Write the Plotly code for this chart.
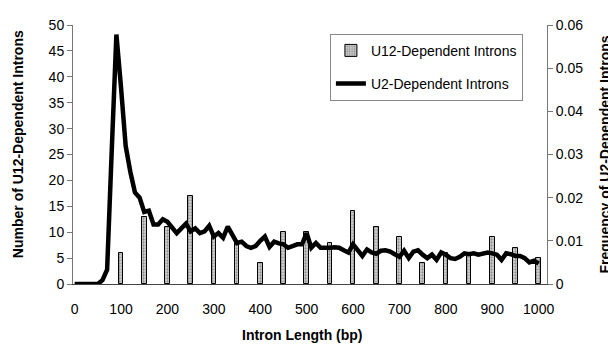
import plotly.graph_objects as go

# U12-dependent intron counts (bars), by intron length bin
u12_lengths = [100, 150, 200, 250, 300, 350, 400, 450, 500, 550,
               600, 650, 700, 750, 800, 850, 900, 950, 1000]
u12_counts = [6, 13, 11, 17, 9, 8, 4, 10, 10, 8,
              14, 11, 9, 4, 6, 6, 9, 7, 5]

# U2-dependent intron frequency (line), 10-bp bins
u2_lengths = list(range(0, 1001, 10))
u2_freq = [
    0, 0, 0, 0, 0, 0, 0.0009, 0.0033, 0.031, 0.0578,
    0.0455, 0.032, 0.026, 0.0212, 0.020, 0.0167, 0.017, 0.0138, 0.0138, 0.015,
    0.0144, 0.013, 0.0118, 0.0129, 0.014, 0.0122, 0.0129, 0.0118, 0.0122, 0.0135,
    0.011, 0.0118, 0.0107, 0.0133, 0.0114, 0.0095, 0.0098, 0.0088, 0.0084, 0.0088,
    0.010, 0.011, 0.0086, 0.0098, 0.0094, 0.0092, 0.0084, 0.0088, 0.0092, 0.0092,
    0.0118, 0.0084, 0.0095, 0.0084, 0.0083, 0.0084, 0.0085, 0.0084, 0.0078, 0.0073,
    0.0092, 0.008, 0.0065, 0.008, 0.0073, 0.007, 0.0077, 0.0078, 0.0075, 0.0069,
    0.0063, 0.0077, 0.006, 0.0075, 0.0078, 0.0068, 0.006, 0.0068, 0.0056, 0.0073,
    0.0068, 0.006, 0.0058, 0.0063, 0.0071, 0.0069, 0.0071, 0.0068, 0.0071, 0.0073,
    0.0071, 0.0068, 0.0056, 0.0071, 0.0069, 0.0065, 0.0065, 0.006, 0.005, 0.0054,
    0.0047,
]

x_ticks = [0, 100, 200, 300, 400, 500, 600, 700, 800, 900, 1000]
y1_ticks = [0, 5, 10, 15, 20, 25, 30, 35, 40, 45, 50]
y2_ticks = [0, 0.01, 0.02, 0.03, 0.04, 0.05, 0.06]
y2_labels = ["0", "0.01", "0.02", "0.03", "0.04", "0.05", "0.06"]

FONT = "Liberation Sans, Arial, sans-serif"

fig = go.Figure()
fig.add_trace(go.Bar(
    x=u12_lengths, y=u12_counts, name="U12-Dependent Introns",
    width=10, legendgroup="a",
    marker=dict(color="#d4d4d4", line=dict(color="#000000", width=1),
                pattern=dict(shape=".", fgcolor="#4a4a4a", bgcolor="#d4d4d4",
                             size=3, solidity=0.45)),
    yaxis="y",
))
fig.add_trace(go.Scatter(
    x=u2_lengths, y=u2_freq, name="U2-Dependent Introns", mode="lines",
    legendgroup="b",
    line=dict(color="#000000", width=4.5), yaxis="y2",
))

# the page body adds an 8 px offset, so the figure is 8 px smaller
fig.update_layout(
    width=608, height=336,
    margin=dict(l=65, r=69, t=9, b=60),
    paper_bgcolor="white", plot_bgcolor="white",
    font=dict(family=FONT, size=14, color="#000000"),
    showlegend=True,
    bargap=0,
    legend=dict(x=0.542, y=0.966, xanchor="left", yanchor="top",
                bordercolor="#888888", borderwidth=1, bgcolor="white",
                font=dict(size=14), tracegroupgap=12, itemwidth=30),
    xaxis=dict(range=[-3.5, 1018], tickvals=x_ticks, ticks="",
               showline=True, linecolor="#444444", linewidth=1,
               showgrid=False, zeroline=False, ticklabelstandoff=12),
    yaxis=dict(range=[0, 50], tickvals=y1_ticks, ticks="outside", ticklen=5,
               tickcolor="#777777", showline=True, linecolor="#777777",
               linewidth=1, showgrid=False, zeroline=False),
    yaxis2=dict(range=[0, 0.06], tickvals=y2_ticks, ticktext=y2_labels,
                overlaying="y", side="right", ticks="outside", ticklen=5,
                tickcolor="#777777", showline=True, linecolor="#777777",
                linewidth=1, showgrid=False, zeroline=False),
    annotations=[
        dict(text="<b>Intron Length (bp)</b>", xref="paper", yref="paper",
             x=0.5, y=0, yshift=-51, xshift=-8, showarrow=False,
             xanchor="center", yanchor="middle", font=dict(size=14)),
        dict(text="<b>Number of U12-Dependent Introns</b>", xref="paper",
             yref="paper", x=0, y=0.54, xshift=-55, textangle=-90,
             showarrow=False, xanchor="center", yanchor="middle",
             font=dict(size=14)),
        dict(text="<b>Frequency of U2-Dependent Introns</b>", xref="paper",
             yref="paper", x=1, y=0.5, xshift=57, textangle=-90,
             showarrow=False, xanchor="center", yanchor="middle",
             font=dict(size=14)),
    ],
)

fig.write_html("out.html")
